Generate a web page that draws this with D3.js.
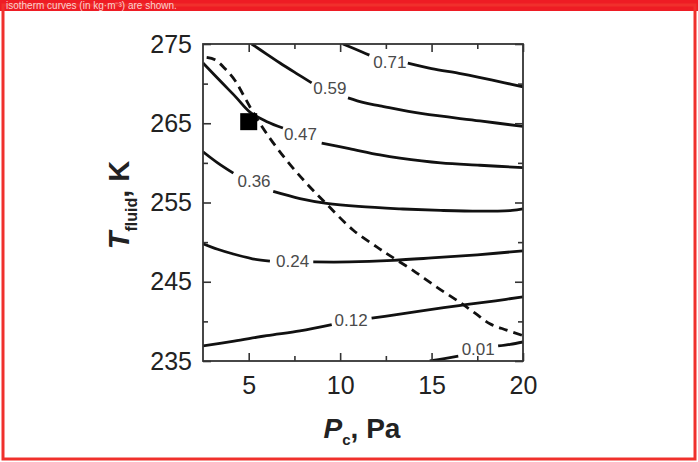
<!DOCTYPE html>
<html><head><meta charset="utf-8">
<script src="https://cdn.jsdelivr.net/npm/d3@7"></script>
<style>html,body{margin:0;padding:0;background:#fff;}svg{display:block;font-family:"Liberation Sans",Arial,sans-serif;}</style>
</head><body>
<svg id="c" width="698" height="462"></svg>
<script>
// ---- data ----
const xDomain = [2.5, 20];
const yDomain = [235, 275];
const xMajorTicks = [5, 10, 15, 20];
const xMinorTicks = [7.5, 12.5, 17.5];
const yMajorTicks = [235, 245, 255, 265, 275];
const yMinorTicks = [240, 250, 260, 270];

// isochore curves: each has two segments (split at label)
const curve071 = [[[10.15,275],[11.2,274.0],[11.6,273.6]],[[13.7,272.6],[15.0,271.9],[16.5,271.3],[17.6,270.8],[19.0,270.1],[20,269.6]]];
const curve059 = [[[5.16,275],[6.0,273.7],[6.71,272.6],[7.6,271.3],[8.44,270.1]],[[10.43,268.2],[11.3,267.6],[12.18,267.2],[14.5,266.2],[17.64,265.3],[20,264.6]]];
const curve047 = [[[2.5,272.6],[3.5,270.2],[4.3,268.3],[5.07,266.4],[6.0,265.2],[6.87,264.4]],[[8.99,262.5],[10.5,261.8],[12.18,261.0],[13.27,260.6],[15.5,260.0],[17.64,259.7],[20,259.4]]];
const curve036 = [[[2.5,261.4],[3.3,260.0],[4.16,258.7]],[[6.34,256.4],[7.8,255.5],[9.26,254.9],[11.0,254.5],[13.27,254.2],[15.5,254.0],[17.64,253.9],[19.4,254.0],[20,254.2]]];
const curve024 = [[[2.5,249.8],[3.3,249.1],[4.16,248.5],[5.2,247.9],[6.16,247.6]],[[8.53,247.5],[10.5,247.5],[12.9,247.7],[15.0,248.0],[17.5,248.4],[20,248.9]]];
const curve012 = [[[2.5,236.9],[4.2,237.5],[5.98,238.2],[7.8,238.8],[9.54,239.6]],[[11.72,240.4],[12.9,240.8],[14.36,241.3],[16.5,242.0],[18.5,242.6],[20,243.1]]];
const curve001 = [[[14.9,235],[15.7,235.3],[16.46,235.6]],[[18.64,236.9],[19.3,237.1],[20,237.4]]];
const curveLabels = ["0.71","0.59","0.47","0.36","0.24","0.12","0.01"];
const labelPositions = [[12.72,272.7],[9.44,269.4],[7.83,263.6],[5.29,257.6],[7.4,247.5],[10.6,240.1],[17.55,236.5]];
const curves = [curve071, curve059, curve047, curve036, curve024, curve012, curve001];

// dashed boundary curve
const dashedCurve = [[2.7,273.3],[3.16,273.0],[3.7,271.9],[4.25,270.4],[4.7,268.6],[5.16,266.7],[5.98,263.7],[7.08,260.3],[8.17,257.4],[9.26,254.8],[10.72,251.5],[12.0,249.4],[12.72,248.3],[14.0,246.4],[15.3,244.3],[16.55,242.4],[17.4,241.0],[18.19,239.7],[19.1,238.9],[20,238.2]];

// experimental point
const pointX = [5.0];
const pointY = [265.2];

// ---- drawing ----
const svg = d3.select("#c");
const W = 698, H = 462;

// frame
svg.append("rect").attr("x",0).attr("y",0).attr("width",W).attr("height",11).attr("fill","#ee1c24");
svg.append("rect").attr("x",3).attr("y",5).attr("width",W-6).attr("height",H-8)
  .attr("fill","none").attr("stroke","#f0302c").attr("stroke-width",3);
svg.append("text").attr("x",6).attr("y",9).attr("font-size",10).attr("fill","#fbd0d0")
  .text("isotherm curves (in kg·m⁻³) are shown.");

const m = {l:203, r:523, t:44, b:361};
const x = d3.scaleLinear().domain(xDomain).range([m.l, m.r]);
const y = d3.scaleLinear().domain(yDomain).range([m.b, m.t]);

const g = svg.append("g");
const clip = svg.append("clipPath").attr("id","pc");
clip.append("rect").attr("x",m.l).attr("y",m.t).attr("width",m.r-m.l).attr("height",m.b-m.t);

const lineNat = d3.line().x(d=>x(d[0])).y(d=>y(d[1])).curve(d3.curveCatmullRom);

const pg = g.append("g").attr("clip-path","url(#pc)");
curves.forEach(c => c.forEach(seg => {
  pg.append("path").attr("d", lineNat(seg)).attr("fill","none").attr("stroke","#111").attr("stroke-width",2.8);
}));
pg.append("path").attr("d", lineNat(dashedCurve)).attr("fill","none").attr("stroke","#111")
  .attr("stroke-width",2.8).attr("stroke-dasharray","9,6");

// labels
curveLabels.forEach((t,i)=>{
  g.append("text").attr("x",x(labelPositions[i][0])).attr("y",y(labelPositions[i][1]))
   .attr("text-anchor","middle").attr("dominant-baseline","central")
   .attr("font-size",17).attr("fill","#4a4a4a").text(t);
});

// marker
const sz = 17;
g.selectAll("rect.pt").data(pointX).enter().append("rect").attr("class","pt")
  .attr("x",(d,i)=>x(d)-sz/2).attr("y",(d,i)=>y(pointY[i])-sz/2).attr("width",sz).attr("height",sz).attr("fill","#000");

// axes
const axCol = "#333";
function styleAxis(sel){ sel.select(".domain").remove(); sel.selectAll("line").attr("stroke",axCol).attr("stroke-width",1.6); }
const ab = g.append("g").attr("transform",`translate(0,${m.b})`)
  .call(d3.axisBottom(x).tickValues(xMajorTicks).tickSize(-8).tickPadding(15).tickFormat(d3.format("d")));
styleAxis(ab);
ab.selectAll("text").attr("font-size",25).attr("fill","#222");
const abm = g.append("g").attr("transform",`translate(0,${m.b})`)
  .call(d3.axisBottom(x).tickValues(xMinorTicks).tickSize(-5).tickFormat(""));
styleAxis(abm);
const at = g.append("g").attr("transform",`translate(0,${m.t})`)
  .call(d3.axisTop(x).tickValues(xMajorTicks).tickSize(-8).tickFormat(""));
styleAxis(at);
const atm = g.append("g").attr("transform",`translate(0,${m.t})`)
  .call(d3.axisTop(x).tickValues(xMinorTicks).tickSize(-5).tickFormat(""));
styleAxis(atm);
const al = g.append("g").attr("transform",`translate(${m.l},0)`)
  .call(d3.axisLeft(y).tickValues(yMajorTicks).tickSize(-8).tickPadding(11).tickFormat(d3.format("d")));
styleAxis(al);
al.selectAll("text").attr("font-size",25).attr("fill","#222");
const alm = g.append("g").attr("transform",`translate(${m.l},0)`)
  .call(d3.axisLeft(y).tickValues(yMinorTicks).tickSize(-5).tickFormat(""));
styleAxis(alm);
const ar = g.append("g").attr("transform",`translate(${m.r},0)`)
  .call(d3.axisRight(y).tickValues(yMajorTicks).tickSize(-8).tickFormat(""));
styleAxis(ar);
const arm = g.append("g").attr("transform",`translate(${m.r},0)`)
  .call(d3.axisRight(y).tickValues(yMinorTicks).tickSize(-5).tickFormat(""));
styleAxis(arm);
g.append("rect").attr("x",m.l).attr("y",m.t).attr("width",m.r-m.l).attr("height",m.b-m.t)
  .attr("fill","none").attr("stroke",axCol).attr("stroke-width",1.8);

// axis titles
const xt = g.append("text").attr("x",362).attr("y",438).attr("text-anchor","middle")
  .attr("font-size",28).attr("font-weight","bold").attr("fill","#222");
xt.append("tspan").attr("font-style","italic").text("P");
xt.append("tspan").attr("font-size",15).attr("dy",7).text("c");
xt.append("tspan").attr("dy",-7).text(", Pa");

const yt = g.append("text").attr("transform",`translate(129,205) rotate(-90)`).attr("text-anchor","middle")
  .attr("font-size",29).attr("font-weight","bold").attr("fill","#222");
yt.append("tspan").attr("font-style","italic").text("T");
yt.append("tspan").attr("font-size",16).attr("dy",8).text("fluid");
yt.append("tspan").attr("dy",-8).text(", K");
</script>
</body></html>
